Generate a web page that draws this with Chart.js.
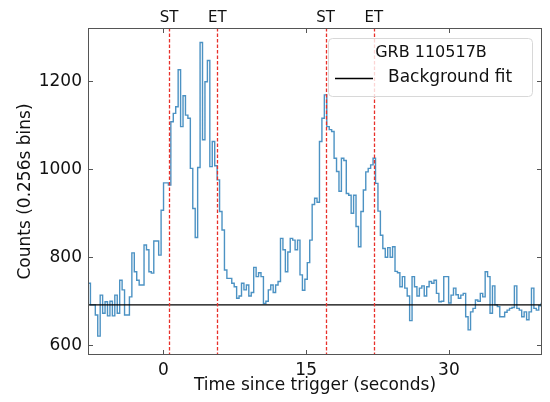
<!DOCTYPE html>
<html>
<head>
<meta charset="utf-8">
<script src="https://cdn.jsdelivr.net/npm/chart.js@4.4.0/dist/chart.umd.min.js"></script>
<style>
  html, body { margin: 0; padding: 0; background: #fff; }
  #wrap { width: 550px; height: 402px; }
</style>
</head>
<body>
<div id="wrap"><canvas id="lc" width="550" height="402"></canvas></div>
<script>
// GRB 110517B light curve, counts in 0.256 s bins
const tStart   = -7.92;
const binWidth = 0.256;

const counts = [
  741, 692, 692, 669, 621, 714, 673, 699, 667, 700,
  667, 714, 673, 748, 726, 669, 669, 710, 810, 767,
  748, 737, 737, 828, 817, 767, 764, 837, 837, 805,
  907, 969, 969, 964, 1108, 1127, 1142, 1226, 1097, 1167,
  1123, 1116, 1002, 911, 845, 1004, 1288, 1067, 1199, 1247,
  1006, 1063, 1008, 976, 904, 862, 771, 752, 752, 741,
  733, 707, 712, 741, 726, 737, 712, 720, 777, 756,
  765, 756, 695, 700, 726, 737, 720, 737, 745, 843,
  817, 767, 812, 843, 839, 817, 839, 760, 725, 750,
  788, 839, 920, 934, 925, 1063, 1116, 1169, 1097, 1090,
  1086, 1025, 995, 950, 1025, 1020, 945, 941, 900, 941,
  870, 824, 904, 953, 994, 1002, 1010, 1025, 968, 905,
  850, 820, 800, 822, 800, 824, 768, 765, 733, 756,
  730, 712, 656, 756, 733, 712, 730, 735, 712, 733,
  745, 741, 748, 718, 699, 700, 756, 756, 696, 714,
  730, 715, 707, 714, 718, 665, 635, 676, 684, 703,
  700, 718, 710, 767, 756, 673, 735, 692, 688, 665,
  665, 675, 680, 684, 686, 735, 684, 680, 665, 676,
  658, 676, 730, 684, 680, 690, 695
];

const bgLevel      = 692;
const markerTimes  = [0.6, 5.67, 17.04, 22.1];
const markerLabels = ['ST', 'ET', 'ST', 'ET'];
const xTicks = [0, 15, 30];
const yTicks = [600, 800, 1000, 1200];
const xRange = [-7.92, 39.78];
const yRange = [578, 1321];

const FONT = "'DejaVu Sans', 'Liberation Sans', sans-serif";

// step points at bin starts, plus closing point at the last bin end
const stepPoints = counts.map((c, i) => ({ x: tStart + i * binWidth, y: c }));
stepPoints.push({ x: tStart + counts.length * binWidth, y: counts[counts.length - 1] });

// =============================================
// Frame, inward ticks, ST/ET markers, legend
// =============================================
const decorPlugin = {
  id: 'decor',
  afterDatasetsDraw(chart) {
    const { ctx, chartArea: a, scales: { x, y } } = chart;
    ctx.save();

    // ST / ET dashed markers
    ctx.strokeStyle = '#e8302a';
    ctx.lineWidth = 1.3;
    ctx.setLineDash([3.5, 2]);
    markerTimes.forEach(t => {
      const px = Math.round(x.getPixelForValue(t)) + 0.5;
      ctx.beginPath();
      ctx.moveTo(px, a.top);
      ctx.lineTo(px, a.bottom);
      ctx.stroke();
    });
    ctx.setLineDash([]);

    ctx.fillStyle = '#111';
    ctx.font = '15px ' + FONT;
    ctx.textAlign = 'center';
    ctx.textBaseline = 'alphabetic';
    markerTimes.forEach((t, i) => {
      ctx.fillText(markerLabels[i], x.getPixelForValue(t), a.top - 6);
    });

    // frame
    ctx.strokeStyle = '#555';
    ctx.lineWidth = 1;
    ctx.strokeRect(a.left + 0.5, a.top + 0.5, a.right - a.left - 1, a.bottom - a.top - 1);

    // inward ticks on all four sides
    const tl = 5;
    ctx.beginPath();
    xTicks.forEach(v => {
      const px = Math.round(x.getPixelForValue(v)) + 0.5;
      ctx.moveTo(px, a.bottom); ctx.lineTo(px, a.bottom - tl);
      ctx.moveTo(px, a.top);    ctx.lineTo(px, a.top + tl);
    });
    yTicks.forEach(v => {
      const py = Math.round(y.getPixelForValue(v)) + 0.5;
      ctx.moveTo(a.left, py);  ctx.lineTo(a.left + tl, py);
      ctx.moveTo(a.right, py); ctx.lineTo(a.right - tl, py);
    });
    ctx.stroke();

    // legend box
    const bx = a.right - 214, by = a.top + 10, bw = 204, bh = 58;
    ctx.fillStyle = 'rgba(255,255,255,0.8)';
    ctx.strokeStyle = '#d8d8d8';
    ctx.beginPath();
    ctx.roundRect(bx + 0.5, by + 0.5, bw, bh, 4);
    ctx.fill();
    ctx.stroke();

    ctx.fillStyle = '#111';
    ctx.textAlign = 'center';
    ctx.textBaseline = 'middle';
    ctx.font = '16px ' + FONT;
    ctx.fillText('GRB 110517B', bx + bw / 2 + 1, by + 15);

    const bgSet = chart.data.datasets[1];
    ctx.strokeStyle = bgSet.borderColor;
    ctx.lineWidth = bgSet.borderWidth;
    ctx.beginPath();
    ctx.moveTo(bx + 7, by + 40.5);
    ctx.lineTo(bx + 45, by + 40.5);
    ctx.stroke();

    ctx.textAlign = 'left';
    ctx.font = '17px ' + FONT;
    ctx.fillText(bgSet.label, bx + 60, by + 40);

    ctx.restore();
  }
};

// =============================================
// Chart
// =============================================
new Chart(document.getElementById('lc'), {
  type: 'line',
  data: {
    datasets: [
      {
        label: 'Counts',
        data: stepPoints,
        stepped: true,
        borderColor: 'rgba(31,119,180,0.8)',
        borderWidth: 1.4,
        pointRadius: 0,
        fill: false,
        order: 1
      },
      {
        label: 'Background fit',
        data: [{ x: xRange[0], y: bgLevel }, { x: xRange[1], y: bgLevel }],
        borderColor: '#000',
        borderWidth: 1.3,
        pointRadius: 0,
        fill: false,
        order: 0
      }
    ]
  },
  options: {
    responsive: false,
    animation: false,
    devicePixelRatio: 1,
    layout: { padding: { left: 0, top: 28, right: 8, bottom: 0 } },
    plugins: {
      legend: { display: false },
      tooltip: { enabled: false }
    },
    scales: {
      x: {
        type: 'linear',
        min: xRange[0],
        max: xRange[1],
        afterBuildTicks: (s) => { s.ticks = xTicks.map(v => ({ value: v })); },
        afterFit: (s) => { s.height = 47; },
        grid: { display: false, drawTicks: false },
        border: { display: false },
        ticks: {
          color: '#111', font: { family: FONT, size: 17 }, padding: 5, maxRotation: 0,
          callback: (v) => String(v)
        },
        title: {
          display: true,
          text: 'Time since trigger (seconds)',
          color: '#111',
          font: { family: FONT, size: 17 },
          padding: { top: 0, bottom: 6 }
        }
      },
      y: {
        min: yRange[0],
        max: yRange[1],
        afterBuildTicks: (s) => { s.ticks = yTicks.map(v => ({ value: v })); },
        afterFit: (s) => { s.width = 88; },
        grid: { display: false, drawTicks: false },
        border: { display: false },
        ticks: {
          color: '#111', font: { family: FONT, size: 17 }, padding: 6,
          callback: (v) => String(v)
        },
        title: {
          display: true,
          text: 'Counts (0.256s bins)',
          color: '#111',
          font: { family: FONT, size: 17 },
          padding: { top: 15, bottom: 0 }
        }
      }
    }
  },
  plugins: [decorPlugin]
});
</script>
</body>
</html>
